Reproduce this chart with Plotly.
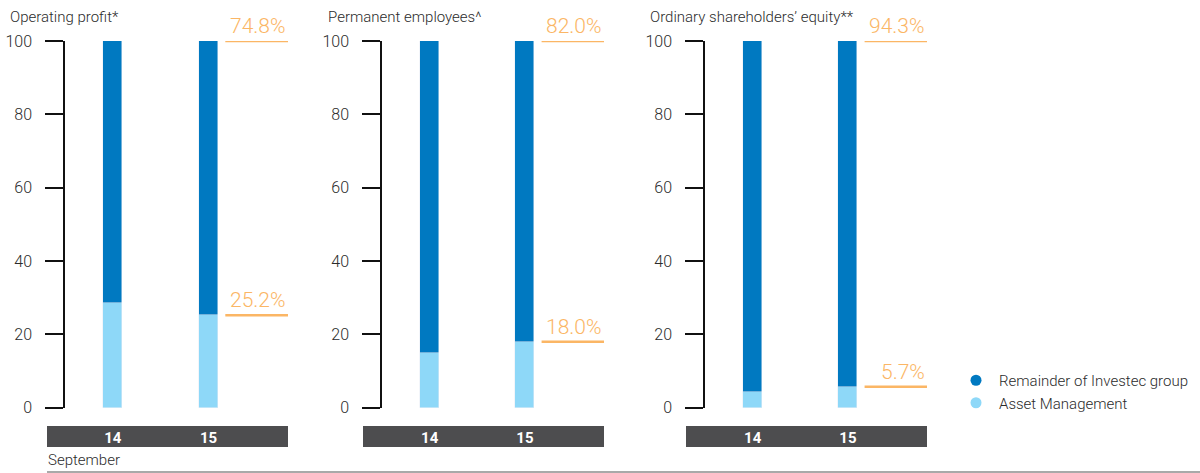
import plotly.graph_objects as go

# ---- data -------------------------------------------------------------
years = ["14", "15"]

op_asset_mgmt = [28.5, 25.2]
op_remainder = [71.5, 74.8]

emp_asset_mgmt = [15.0, 18.0]
emp_remainder = [85.0, 82.0]

eq_asset_mgmt = [4.3, 5.7]
eq_remainder = [95.7, 94.3]

panel_titles = ["Operating profit*", "Permanent employees^", "Ordinary shareholders\u2019 equity**"]
y_ticks = [0, 20, 40, 60, 80, 100]

series_names = ["Remainder of Investec group", "Asset Management"]

# ---- style ------------------------------------------------------------
W, H = 1200, 473
DARK_BLUE = "#0079C1"
LIGHT_BLUE = "#8ED8F8"
ORANGE = "#FBB665"
BAND = "#4D4D4F"
TEXT = "#2B2B2B"
FONT = "Roboto"


def px(x):
    return x / W


def py(y):
    return 1 - y / H


# pixel geometry of each panel: axis line x, right edge, band left edge, title x
panels = [
    dict(axis=65, right=288, band_left=47, title=8),
    dict(axis=382, right=604, band_left=363, title=326),
    dict(axis=705, right=927, band_left=686, title=648),
]
y_top, y_bot = 41, 407.7
x_range = [-0.5, 1.83]

data_sets = [
    (op_asset_mgmt, op_remainder),
    (emp_asset_mgmt, emp_remainder),
    (eq_asset_mgmt, eq_remainder),
]

fig = go.Figure()
shapes = []
annotations = []

for i, (panel, (am, rem)) in enumerate(zip(panels, data_sets)):
    n = "" if i == 0 else str(i + 1)
    xa, ya = "x" + n, "y" + n

    fig.add_trace(go.Bar(x=years, y=am, marker_color=LIGHT_BLUE, width=0.2,
                         xaxis=xa, yaxis=ya, showlegend=False,
                         name=series_names[1], hoverinfo="skip"))
    fig.add_trace(go.Bar(x=years, y=rem, marker_color=DARK_BLUE, width=0.2,
                         xaxis=xa, yaxis=ya, showlegend=False,
                         name=series_names[0], hoverinfo="skip"))

    fig.layout["xaxis" + n] = dict(
        domain=[px(panel["axis"]), px(panel["right"])],
        range=x_range, type="category", anchor=ya, automargin=False,
        showline=False, showgrid=False, zeroline=False, ticks="",
        tickfont=dict(family=FONT, size=15, color="white", weight="bold"),
        ticklabelstandoff=19,
    )
    fig.layout["yaxis" + n] = dict(
        domain=[py(y_bot), py(y_top)],
        range=[0, 100], anchor=xa, automargin=False,
        tickvals=y_ticks, ticks="outside", ticklen=18, tickwidth=1.5,
        tickcolor="#111", showline=True, linecolor="#111", linewidth=1.5,
        showgrid=False, zeroline=False,
        tickfont=dict(family=FONT, size=16, color=TEXT, weight=300),
        ticklabelstandoff=10,
    )

    # dark category band under the axis
    shapes.append(dict(type="rect", xref="paper", yref="paper",
                       x0=px(panel["band_left"]), x1=px(panel["right"]),
                       y0=py(447), y1=py(426), fillcolor=BAND,
                       line=dict(width=0), layer="below"))

    # panel heading
    annotations.append(dict(text=panel_titles[i], xref="paper", yref="paper",
                            x=px(panel["title"]), y=py(17),
                            xanchor="left", yanchor="middle", showarrow=False,
                            font=dict(family=FONT, size=15, color=TEXT, weight=300)))

    # share callouts for the latest year
    latest_am = am[-1]
    latest_rem = rem[-1]
    for level, value in ((100, latest_rem), (latest_am, latest_am)):
        shapes.append(dict(type="line", xref=xa, yref=ya,
                           x0=1.175, x1=x_range[1], y0=level, y1=level,
                           line=dict(color=ORANGE, width=2.5)))
        annotations.append(dict(text=f"{value:.1f}%", xref=xa, yref=ya,
                                x=x_range[1], y=level, xanchor="right",
                                yanchor="bottom", showarrow=False, yshift=1,
                                font=dict(family=FONT, size=21, color=ORANGE, weight=300)))

annotations.append(dict(text="September", xref="paper", yref="paper",
                        x=px(46), y=py(460), xanchor="left", yanchor="middle",
                        showarrow=False,
                        font=dict(family=FONT, size=15, color=TEXT, weight=300)))

shapes.append(dict(type="line", xref="paper", yref="paper",
                   x0=px(47), x1=1, y0=py(472), y1=py(472),
                   line=dict(color="#555", width=1.2)))

# legend entries with round markers
for name, col in zip(series_names, [DARK_BLUE, LIGHT_BLUE]):
    fig.add_trace(go.Scatter(x=[None], y=[None], mode="markers", name=name,
                             marker=dict(symbol="circle", size=11, color=col),
                             xaxis="x3", yaxis="y3", showlegend=True))

fig.update_layout(
    width=W, height=H, autosize=False,
    margin=dict(l=0, r=0, t=0, b=0),
    paper_bgcolor="white", plot_bgcolor="white",
    barmode="stack", bargap=0,
    shapes=shapes, annotations=annotations,
    legend=dict(x=px(953), y=py(364), xanchor="left", yanchor="top",
                traceorder="normal",
                font=dict(family=FONT, size=15, color=TEXT, weight=300),
                bgcolor="rgba(0,0,0,0)", tracegroupgap=0, itemwidth=36),
    showlegend=True,
)

fig.write_html("out.html")
